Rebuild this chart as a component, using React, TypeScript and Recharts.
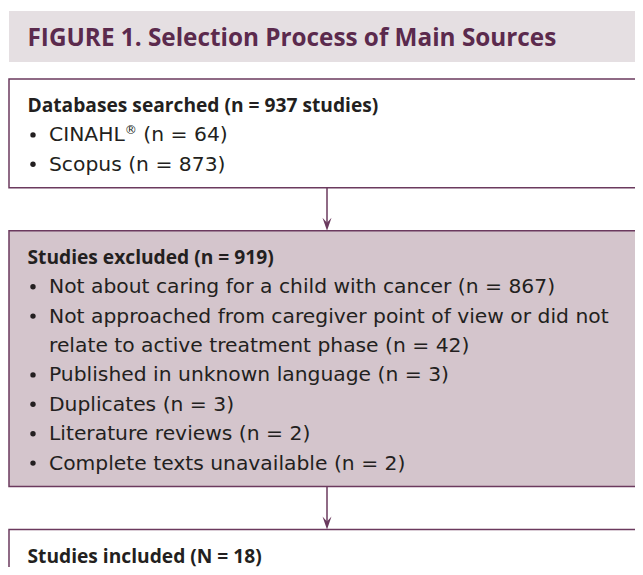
import React from "react";
import { ComposedChart, XAxis, YAxis, ReferenceArea, ReferenceLine, Scatter } from "recharts";

const TITLE = "FIGURE 1. Selection Process of Main Sources";

const searchedLabel = "Databases searched";
const searchedTotal = 937;
const databases = ["CINAHL®", "Scopus"];
const databaseCounts = [64, 873];

const excludedLabel = "Studies excluded";
const excludedTotal = 919;
const exclusionReasons = [
	["Not about caring for a child with cancer"],
	["Not approached from caregiver point of view or did not", "relate to active treatment phase"],
	["Published in unknown language"],
	["Duplicates"],
	["Literature reviews"],
	["Complete texts unavailable"],
];
const exclusionCounts = [867, 42, 3, 3, 2, 2];

const includedLabel = "Studies included";
const includedTotal = 18;

// layout (chart units == px)
const W = 660;
const H = 600;
const BOX_LEFT = 9;
const BOX_RIGHT = 652;
const ARROW_X = 327;
const FIRST_BOX_TOP = 79;
const LINE = 29.4;
const PAD_TOP = 26;
const PAD_BOTTOM = 24;
const GAP = 43;
const HEAD_X = 27.5;
const ITEM_X = 49;

const PURPLE = "#6b3a5e";
const TEXT = "#231f20";
const HEAD_FONT = "'Open Sans', 'Noto Sans', sans-serif";
const BODY_FONT = "'DejaVu Sans', 'Noto Sans', sans-serif";

type Line = { text: string; kind: "head" | "bullet" | "cont" | "title" };

function buildLines(head: string, items: string[][], counts: number[]): Line[] {
	const out: Line[] = [{ text: head, kind: "head" }];
	items.forEach((parts, i) => {
		parts.forEach((p, j) => {
			const last = j === parts.length - 1;
			out.push({ text: last ? `${p} (n = ${counts[i]})` : p, kind: j === 0 ? "bullet" : "cont" });
		});
	});
	return out;
}

const boxes = [
	{ lines: buildLines(`${searchedLabel} (n = ${searchedTotal} studies)`, databases.map((d) => [d]), databaseCounts), fill: "#ffffff" },
	{ lines: buildLines(`${excludedLabel} (n = ${excludedTotal})`, exclusionReasons, exclusionCounts), fill: "#d4c5cc" },
	{ lines: buildLines(`${includedLabel} (N = ${includedTotal})`, [], []), fill: "#ffffff" },
];

let cursor = FIRST_BOX_TOP;
const layout = boxes.map((b) => {
	const top = cursor;
	const bottom = top + PAD_TOP + (b.lines.length - 1) * LINE + PAD_BOTTOM;
	cursor = bottom + GAP;
	return { ...b, top, bottom };
});

const textPoints = [
	{ x: HEAD_X, y: 37, text: TITLE, kind: "title" },
	...layout.flatMap((b) =>
		b.lines.map((line, j) => ({
			x: line.kind === "head" ? HEAD_X : ITEM_X,
			y: b.top + PAD_TOP + j * LINE,
			text: line.text,
			kind: line.kind,
		}))
	),
];

function renderText(text: string) {
	const idx = text.indexOf("®");
	if (idx < 0) return text;
	return (
		<>
			{text.slice(0, idx)}
			<tspan fontSize="0.6em" dy={-7}>®</tspan>
			<tspan dy={7}>{text.slice(idx + 1)}</tspan>
		</>
	);
}

const TextShape = (props: any) => {
	const { cx, cy, payload } = props;
	if (payload.kind === "title") {
		return (
			<text x={cx} y={cy + 8.5} fontFamily={HEAD_FONT} fontSize={24.3} fontWeight={700} fill="#5b2a4d">
				{payload.text}
			</text>
		);
	}
	if (payload.kind === "head") {
		return (
			<text x={cx} y={cy + 7} fontFamily={HEAD_FONT} fontSize={19.2} fontWeight={700} fill={TEXT}>
				{payload.text}
			</text>
		);
	}
	return (
		<g>
			{payload.kind === "bullet" && <circle cx={cx - 16} cy={cy + 0.5} r={2.7} fill={TEXT} />}
			<text x={cx} y={cy + 7} fontFamily={BODY_FONT} fontSize={20.3} fill={TEXT}>
				{renderText(payload.text)}
			</text>
		</g>
	);
};

const Arrow = (props: any) => {
	const { x1, y1, x2, y2 } = props;
	return (
		<g>
			<line x1={x1} y1={y1} x2={x2} y2={y2 - 6} stroke={PURPLE} strokeWidth={1.5} />
			<path d={`M${x2},${y2} L${x2 - 4.5},${y2 - 13} L${x2},${y2 - 8} L${x2 + 4.5},${y2 - 13} Z`} fill={PURPLE} />
		</g>
	);
};

export default function App() {
	return (
		<div style={{ margin: -8, width: 643, height: 575, overflow: "hidden", background: "#fff" }}>
			<ComposedChart width={W} height={H} data={textPoints} margin={{ top: 0, right: 0, bottom: 0, left: 0 }}>
				<XAxis type="number" dataKey="x" domain={[0, W]} allowDataOverflow hide />
				<YAxis type="number" dataKey="y" domain={[0, H]} allowDataOverflow reversed hide />
				<ReferenceArea x1={BOX_LEFT} x2={W} y1={11} y2={62} fill="#e5dfe2" fillOpacity={1} stroke="none" />
				{layout.map((b, i) => (
					<ReferenceArea
						key={`box-${i}`}
						x1={BOX_LEFT}
						x2={BOX_RIGHT}
						y1={b.top}
						y2={b.bottom}
						fill={b.fill}
						fillOpacity={1}
						stroke={PURPLE}
						strokeWidth={1.5}
					/>
				))}
				{layout.slice(0, -1).map((b, i) => (
					<ReferenceLine
						key={`arrow-${i}`}
						segment={[
							{ x: ARROW_X, y: b.bottom },
							{ x: ARROW_X, y: layout[i + 1].top },
						]}
						shape={Arrow}
					/>
				))}
				<Scatter data={textPoints} dataKey="y" shape={TextShape} isAnimationActive={false} />
			</ComposedChart>
		</div>
	);
}
